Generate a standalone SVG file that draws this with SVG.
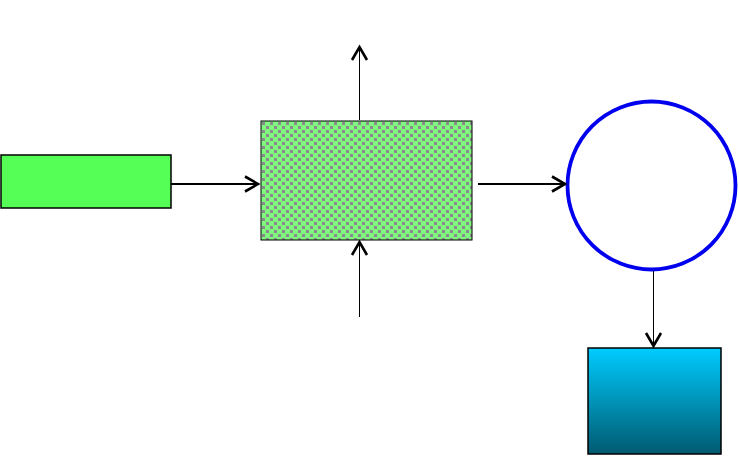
<svg xmlns="http://www.w3.org/2000/svg" width="739" height="456" viewBox="0 0 739 456">
<defs>
<pattern id="dots" width="8" height="8" patternUnits="userSpaceOnUse" x="261" y="121">
<rect width="8" height="8" fill="#80f880"/>
<rect x="1" y="1" width="3" height="3" fill="#8a8a8a"/>
<rect x="5" y="5" width="3" height="3" fill="#8a8a8a"/>
</pattern>
<linearGradient id="blue" x1="0" y1="0" x2="0" y2="1">
<stop offset="0" stop-color="#00ccff"/>
<stop offset="1" stop-color="#005a70"/>
</linearGradient>
<marker id="arr" markerUnits="userSpaceOnUse" markerWidth="20" markerHeight="20" viewBox="-16 -10 20 20" refX="0" refY="0" orient="auto">
<polyline points="-13,-7.5 0,0 -13,7.5" fill="none" stroke="#000" stroke-width="2.6"/>
</marker>
<style>
.conn{fill:none;stroke:#000;marker-end:url(#arr)}
.box{stroke:#000;stroke-width:1.5}
</style>
</defs>
<rect width="739" height="456" fill="#fff"/>
<g id="source"><rect class="box" x="1" y="155" width="170" height="53" fill="#55ff55"/></g>
<g id="process"><rect x="261" y="121" width="211" height="119" fill="url(#dots)" stroke="#000" stroke-width="1"/></g>
<g id="circle"><circle cx="651.5" cy="185.5" r="84" fill="#fff" stroke="#0000ee" stroke-width="3.8"/></g>
<g id="sink"><rect class="box" x="588" y="348" width="133" height="106" fill="url(#blue)" stroke-width="2"/></g>
<g id="connectors">
<path class="conn" d="M171 184 H258" stroke-width="1.8"/>
<path class="conn" d="M478 184 H565" stroke-width="1.8"/>
<path class="conn" d="M359.5 120 V47" stroke-width="1"/>
<path class="conn" d="M359.5 317 V242" stroke-width="1"/>
<path class="conn" d="M653.5 271 V346" stroke-width="1"/>
</g>
</svg>
